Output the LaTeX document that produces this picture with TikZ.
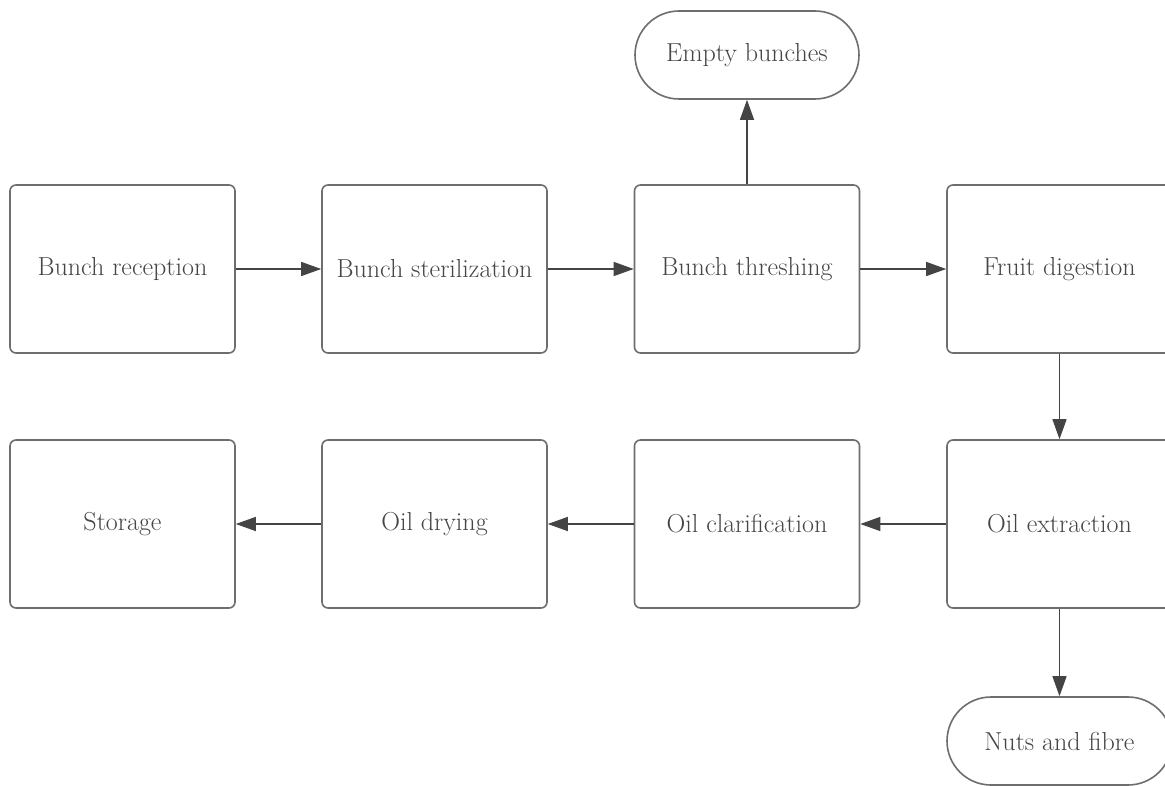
\documentclass[tikz,border=0pt]{standalone}
\usetikzlibrary{arrows.meta}
\definecolor{bordergray}{HTML}{6E6E6E}
\definecolor{textgray}{HTML}{454545}
\definecolor{arrowgray}{HTML}{444444}
\begin{document}
\begin{tikzpicture}[x=1pt,y=-1pt,
  procbox/.style={draw=bordergray,line width=1.6pt,rounded corners=6pt,minimum width=225pt,minimum height=168pt,inner sep=0pt,text=textgray,font=\fontsize{26}{30}\selectfont},
  pill/.style={draw=bordergray,line width=1.6pt,rounded corners=44pt,minimum width=224pt,minimum height=88pt,inner sep=0pt,text=textgray,font=\fontsize{26}{30}\selectfont},
  flow/.style={draw=arrowgray,line width=1.3pt,-{Triangle[length=20pt,width=14pt]}}]
\useasboundingbox (0,0) rectangle (1165,786);
\fill[white] (0,0) rectangle (1165,786);
\node[procbox] (rec) at (122.5,269) {Bunch reception};
\node[procbox] (ster) at (434.5,269) {Bunch sterilization};
\node[procbox] (thr) at (747,269) {Bunch threshing};
\node[procbox] (dig) at (1059.5,269) {Fruit digestion};
\node[procbox] (ext) at (1059.5,524) {Oil extraction};
\node[procbox] (cla) at (747,524) {Oil clarification};
\node[procbox] (dry) at (434.5,524) {Oil drying};
\node[procbox] (sto) at (122.5,524) {Storage};
\node[pill] (emp) at (747,55) {Empty bunches};
\node[pill,minimum width=225pt] (nut) at (1059.5,741) {Nuts and fibre};
\draw[flow] (rec) -- (ster);
\draw[flow] (ster) -- (thr);
\draw[flow] (thr) -- (dig);
\draw[flow] (thr) -- (emp);
\draw[flow] (dig) -- (ext);
\draw[flow] (ext) -- (cla);
\draw[flow] (cla) -- (dry);
\draw[flow] (dry) -- (sto);
\draw[flow] (ext) -- (nut);
\end{tikzpicture}
\end{document}
